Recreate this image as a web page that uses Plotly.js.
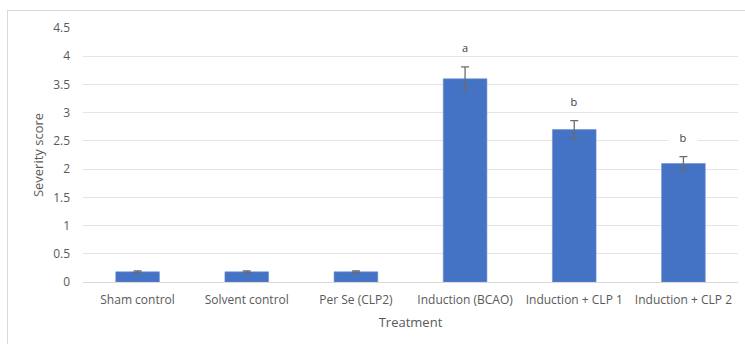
<!DOCTYPE html>
<html>
<head>
<meta charset="utf-8">
<script src="https://cdn.plot.ly/plotly-3.0.1.min.js"></script>
<style>
  html, body { margin: 0; padding: 0; background: #fff; }
  #wrap { position: relative; width: 745px; height: 344px; overflow: hidden; }
  #chart { width: 745px; height: 344px; }
  #frame { position: absolute; left: 7px; top: 10px; width: 760px; height: 360px;
           border-left: 1px solid #d9d9d9; border-top: 1px solid #d9d9d9; pointer-events: none; }
</style>
</head>
<body>
<div id="wrap">
  <div id="chart"></div>
  <div id="frame"></div>
</div>
<script>
// Severity score by treatment group (mean ± error)
const treatments = ["Sham control", "Solvent control", "Per Se (CLP2)",
                    "Induction (BCAO)", "Induction + CLP 1", "Induction + CLP 2"];
const severity = [0.18, 0.18, 0.18, 3.6, 2.7, 2.1];
const severityErr = [0.015, 0.015, 0.015, 0.21, 0.16, 0.12];
const groupLetters = ["", "", "", "a", "b", "b"];

const font = "'Open Sans', 'Noto Sans', 'Liberation Sans', sans-serif";

const trace = {
  type: "bar",
  x: treatments,
  y: severity,
  marker: { color: "#4472c4", line: { color: "#6e8fd0", width: 0.6 } },
  error_y: { type: "data", array: severityErr, visible: true,
             color: "#6b6b6b", thickness: 1.3, width: 4 },
  hoverinfo: "x+y"
};

const annotations = [];
treatments.forEach((t, i) => {
  if (!groupLetters[i]) return;
  annotations.push({
    x: t, y: severity[i] + severityErr[i], xref: "x", yref: "y",
    text: groupLetters[i], showarrow: false, yanchor: "middle", yshift: 20,
    bgcolor: "#ffffff", width: 26, height: 14,
    font: { family: font, size: 11, color: "#404040" }
  });
});

const layout = {
  width: 745, height: 344,
  margin: { l: 83, r: 7, t: 28, b: 62 },
  paper_bgcolor: "#ffffff", plot_bgcolor: "#ffffff",
  bargap: 0.6,
  showlegend: false,
  font: { family: font, size: 12, color: "#595959" },
  xaxis: {
    type: "category",
    showgrid: false, zeroline: false,
    showline: true, linecolor: "#d9d9d9", linewidth: 1,
    ticks: "",
    ticklabelstandoff: 7,
    tickfont: { family: font, size: 12, color: "#595959" },
    title: { text: "Treatment", standoff: 10, font: { family: font, size: 13, color: "#595959" } }
  },
  yaxis: {
    range: [0, 4.5], dtick: 0.5, tick0: 0,
    showgrid: true, gridcolor: "#e4e4e4", gridwidth: 1,
    zeroline: false, showline: false, ticks: "",
    ticklabelstandoff: 12,
    tickfont: { family: font, size: 12, color: "#595959" },
    title: { text: "Severity score", standoff: 6, font: { family: font, size: 13, color: "#595959" } }
  },
  annotations: annotations
};

Plotly.newPlot("chart", [trace], layout, { displayModeBar: false, staticPlot: true });
</script>
</body>
</html>
